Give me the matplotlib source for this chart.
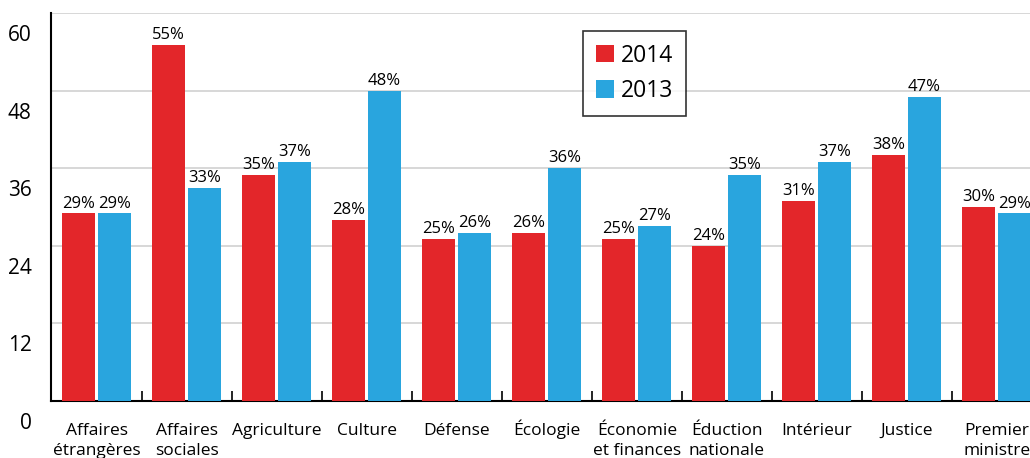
import matplotlib.pyplot as plt
import matplotlib.transforms as mtransforms
import numpy as np

plt.rcParams['font.family'] = ['Open Sans', 'DejaVu Sans']

categories = ["Affaires\nétrangères", "Affaires\nsociales", "Agriculture", "Culture",
              "Défense", "Écologie", "Économie\net finances", "Éduction\nnationale",
              "Intérieur", "Justice", "Premier\nministre"]
v2014 = [29, 55, 35, 28, 25, 26, 25, 24, 31, 38, 30]
v2013 = [29, 33, 37, 48, 26, 36, 27, 35, 37, 47, 29]
yticks = [0, 12, 24, 36, 48, 60]

red = "#e3262a"
blue = "#29a5de"

fig = plt.figure(figsize=(10.3, 4.58), dpi=100)
ax = fig.add_axes([51 / 1030, 57 / 458, 1 - 51 / 1030, 388 / 458])

x = np.arange(len(categories))
w = 0.367
b1 = ax.bar(x - 0.205, v2014, w, color=red, label="2014", zorder=3)
b2 = ax.bar(x + 0.195, v2013, w, color=blue, label="2013", zorder=3)

for bars, vals in ((b1, v2014), (b2, v2013)):
    for r, v in zip(bars, vals):
        ax.text(r.get_x() + r.get_width() / 2, v + 0.3, f"{v}%", ha="center",
                va="bottom", fontsize=12, zorder=4)

ax.set_ylim(0, 60)
ax.set_xlim(-0.511, 10.367)
ax.set_yticks(yticks)
ax.set_yticklabels([str(t) for t in yticks], fontsize=15)
ax.tick_params(axis="y", length=0, pad=14)
off = mtransforms.ScaledTranslation(0, -20 / 100, fig.dpi_scale_trans)
for lab in ax.get_yticklabels():
    lab.set_transform(lab.get_transform() + off)

ax.yaxis.grid(True, color="#d4d4d4", linewidth=1.3, zorder=0)
ax.set_xticks(np.arange(0.5, 10.5, 1))
ax.set_xticklabels([])
ax.tick_params(axis="x", direction="in", length=7, width=1.2, color="black")
# category names, one line at a time so accents don't shift the baseline
for xi, c in zip(x, categories):
    for k, line in enumerate(c.split("\n")):
        ax.text(xi, -5.3 - 3.1 * k, line, ha="center", va="baseline", fontsize=12.5)

for s in ("top", "right"):
    ax.spines[s].set_visible(False)
ax.spines["left"].set_linewidth(1.5)
ax.spines["bottom"].set_linewidth(1.5)

leg = ax.legend(loc="upper left", bbox_to_anchor=(532 / 979, 1 - 18 / 388),
                borderaxespad=0, fontsize=16.5, frameon=True, fancybox=False,
                edgecolor="black", handlelength=0.8, handleheight=0.8,
                handletextpad=0.3, borderpad=0.55, labelspacing=0.5)
leg.get_frame().set_linewidth(1.2)

fig.savefig("out.png", dpi=100)
